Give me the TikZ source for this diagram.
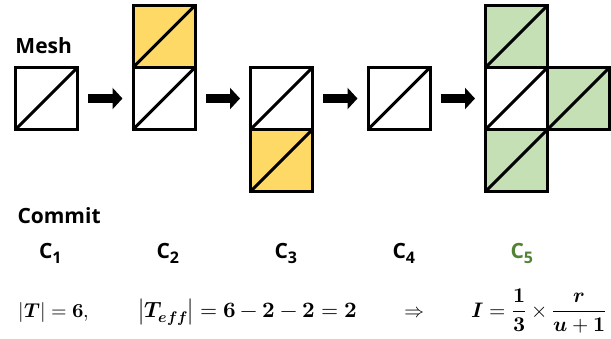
\documentclass[tikz,border=0pt]{standalone}
\usepackage{amsmath}
\usepackage{fontspec}
\usepackage{unicode-math}
\setmainfont{Open Sans}
\usepackage{xcolor}
\usetikzlibrary{arrows.meta,positioning}
\definecolor{cellyellow}{HTML}{FFD966}
\definecolor{cellgreen}{HTML}{C5E0B4}
\definecolor{commitgreen}{HTML}{548235}
\newcommand{\commitname}[1]{C\raisebox{-5pt}{\fontsize{16}{16}\selectfont #1}}

\begin{document}
\begin{tikzpicture}[x=1pt, y=-1pt, line width=3pt,
  cell/.style={draw, rectangle, minimum size=62pt, inner sep=0pt, outer sep=0pt},
  blockarrow/.style={-{Triangle[length=10pt,width=21pt]}, line width=9pt,
    shorten <=10.5pt, shorten >=10.5pt},
  title/.style={font=\fontsize{21}{25}\selectfont\bfseries, inner sep=0pt, anchor=base west},
  formula/.style={font=\fontsize{20}{24}\selectfont, inner sep=0pt, anchor=base west}]
  \useasboundingbox (0,0) rectangle (611,338);

  \node[cell] (m1) at (46.5,98.5) {};
  \node[cell] (m2) at (164,98.5) {};
  \node[cell, fill=cellyellow, above=0pt of m2] (m2up) {};
  \node[cell] (m3) at (281.5,98.5) {};
  \node[cell, fill=cellyellow, below=0pt of m3] (m3down) {};
  \node[cell] (m4) at (399,98.5) {};
  \node[cell] (m5) at (516.5,98.5) {};
  \node[cell, fill=cellgreen, above=0pt of m5] (m5up) {};
  \node[cell, fill=cellgreen, below=0pt of m5] (m5down) {};
  \node[cell, fill=cellgreen, right=0pt of m5] (m5right) {};
  \foreach \c in {m1,m2,m2up,m3,m3down,m4,m5,m5up,m5down,m5right}
    \draw (\c.south west) -- (\c.north east);

  \draw[blockarrow] (m1) -- (m2);
  \draw[blockarrow] (m2) -- (m3);
  \draw[blockarrow] (m3) -- (m4);
  \draw[blockarrow] (m4) -- (m5);

  \node[title] (mesh) at (14,53) {Mesh};
  \node[title] (commit) at (16,223) {Commit};
  \node[title] (c1) at (37.5,258) {\commitname{1}};
  \node[title] (c2) at (155,258) {\commitname{2}};
  \node[title] (c3) at (273,258) {\commitname{3}};
  \node[title] (c4) at (391,258) {\commitname{4}};
  \node[title, commitgreen] (c5) at (509,258) {\commitname{5}};

  \node[formula] (tsize) at (17,317) {$|\symbfit{T}| = \symbf{6},$};
  \node[formula, font=\fontsize{22}{26}\selectfont] (teff) at (137,317)
    {$\left|\symbfit{T}_{\symbfit{eff}}\right| = \symbf{6} - \symbf{2} - \symbf{2} = \symbf{2}$};
  \node[formula] (implies) at (403,317) {$\Rightarrow$};
  \node[formula, font=\fontsize{21}{25}\selectfont] (index) at (470,317)
    {$\symbfit{I} = \dfrac{\symbf{1}}{\symbf{3}}\times\dfrac{\symbfit{r}}{\symbfit{u}+\symbf{1}}$};
\end{tikzpicture}
\end{document}
